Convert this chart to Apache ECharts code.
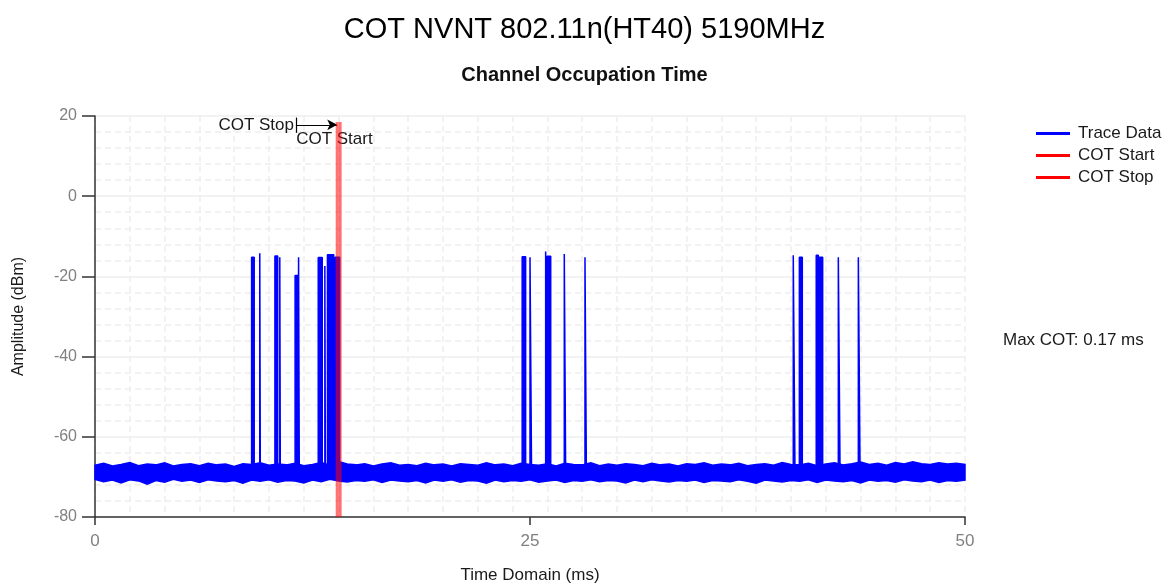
<!DOCTYPE html>
<html>
<head>
<meta charset="utf-8">
<script src="https://cdn.jsdelivr.net/npm/echarts@6/dist/echarts.min.js"></script>
<style>
  html, body { margin: 0; padding: 0; background: #fff; }
  #main { width: 1169px; height: 584px; }
</style>
</head>
<body>
<div id="main"></div>
<script type="text/javascript">
// noise floor envelope, one sample every 0.5 ms from 0 to 50 ms
var noiseStep = 0.5;
var noiseTop = [-67.1,-66.6,-67.3,-66.9,-66.4,-67.2,-66.8,-67.0,-66.5,-67.3,
  -66.9,-66.7,-67.2,-66.6,-67.0,-66.8,-67.4,-66.7,-66.9,-66.5,
  -67.1,-66.8,-67.0,-66.6,-67.2,-66.9,-66.4,-67.1,-66.2,-66.8,
  -67.0,-66.7,-67.3,-66.8,-66.5,-67.1,-66.9,-67.2,-66.6,-67.0,
  -66.8,-67.3,-66.7,-66.9,-67.1,-66.5,-67.0,-66.8,-67.2,-66.6,
  -66.9,-67.1,-66.7,-67.3,-66.6,-66.9,-67.0,-66.5,-67.2,-66.8,
  -67.1,-66.7,-66.9,-67.2,-66.6,-67.0,-66.8,-67.3,-66.7,-66.9,
  -66.5,-67.1,-66.8,-67.0,-66.6,-67.2,-66.9,-66.7,-67.1,-66.4,
  -66.9,-67.0,-66.6,-67.2,-66.8,-66.5,-67.0,-66.7,-66.3,-66.9,
  -66.6,-67.1,-66.4,-66.8,-66.2,-66.7,-66.9,-66.5,-66.8,-66.6,-66.9];
var noiseBottom = [-70.6,-71.2,-70.8,-71.5,-70.7,-71.0,-71.8,-70.9,-71.3,-70.6,
  -71.1,-70.8,-71.4,-70.7,-71.0,-71.2,-70.9,-71.6,-70.8,-71.1,
  -70.7,-71.3,-70.9,-71.0,-71.5,-70.8,-71.2,-70.6,-71.0,-71.3,
  -70.9,-71.1,-70.7,-71.4,-70.8,-71.0,-71.2,-70.9,-71.5,-70.8,
  -71.1,-70.7,-71.3,-70.9,-71.0,-71.6,-70.8,-71.2,-70.9,-71.1,
  -70.7,-71.3,-71.0,-70.8,-71.4,-70.9,-71.1,-70.7,-71.2,-70.9,
  -71.0,-71.5,-70.8,-71.2,-70.7,-71.0,-71.3,-70.9,-71.1,-70.8,
  -71.4,-70.9,-71.0,-71.2,-70.7,-71.1,-71.6,-70.8,-71.0,-71.3,
  -70.9,-71.1,-70.7,-71.4,-70.8,-71.0,-71.2,-70.9,-71.5,-70.8,
  -71.1,-70.9,-71.3,-70.7,-71.0,-71.2,-70.8,-71.4,-70.9,-71.1,-70.8];

// bursts in the trace: start (ms), end (ms), peak level (dBm)
var noiseLevel = -69;
var burstStart = [9.00, 9.47, 10.34, 10.62, 11.50, 11.70, 12.83, 13.21, 13.36, 13.80,
                  24.55, 25.00, 25.90, 25.98, 26.97, 28.16,
                  40.13, 40.48, 41.45, 41.63, 42.72, 43.87];
var burstEnd   = [9.15, 9.50, 10.50, 10.65, 11.66, 11.74, 13.06, 13.24, 13.72, 14.06,
                  24.75, 25.09, 25.98, 26.19, 27.05, 28.24,
                  40.23, 40.65, 41.57, 41.82, 42.82, 43.97];
var burstTop   = [-15.2, -14.2, -14.9, -15.2, -19.8, -15.2, -15.3, -17.4, -14.6, -15.2,
                  -15.1, -15.2, -13.8, -15.0, -14.4, -15.2,
                  -14.7, -15.2, -14.7, -15.2, -15.2, -15.2];

// COT markers
var cotStart = 13.92;
var cotStop = 14.09;
var cotTop = 18.5;
var maxCot = '0.17';

// axes
var xMin = 0, xMax = 50, xInterval = 25;
var yMin = -80, yMax = 20, yInterval = 20;

var traceData = [[xMin, noiseLevel]];
for (var i = 0; i < burstStart.length; i++) {
    traceData.push([burstStart[i], noiseLevel]);
    traceData.push([burstStart[i], burstTop[i]]);
    traceData.push([burstEnd[i], burstTop[i]]);
    traceData.push([burstEnd[i], noiseLevel]);
}
traceData.push([xMax, noiseLevel]);

var font = '"Liberation Sans", Arial, sans-serif';
var myChart = echarts.init(document.getElementById('main'));

var option = {
    animation: false,
    title: [
        {
            text: 'COT NVNT 802.11n(HT40) 5190MHz',
            left: 'center', top: 10,
            textStyle: { fontSize: 29, fontWeight: 'normal', color: '#000', fontFamily: font }
        },
        {
            text: 'Channel Occupation Time',
            left: 'center', top: 60,
            textStyle: { fontSize: 20, fontWeight: 'bold', color: '#111', fontFamily: font }
        }
    ],
    legend: {
        data: ['Trace Data', 'COT Start', 'COT Stop'],
        orient: 'vertical',
        left: 1031, top: 120,
        icon: 'rect',
        itemWidth: 34, itemHeight: 3, itemGap: 5,
        textStyle: { fontSize: 17, color: '#1a1a1a', fontFamily: font, padding: [0, 0, 0, 3] }
    },
    graphic: [
        {
            type: 'text', left: 1003, top: 332,
            style: { text: 'Max COT: ' + maxCot + ' ms', fill: '#1a1a1a', font: '17px ' + font }
        }
    ],
    grid: { left: 95, right: 204, top: 116, bottom: 67, outerBoundsMode: 'none', containLabel: false },
    xAxis: [
        {
            type: 'value', min: xMin, max: xMax, interval: xInterval,
            name: 'Time Domain (ms)', nameLocation: 'middle', nameGap: 50,
            nameTextStyle: { fontSize: 17, color: '#1a1a1a', fontFamily: font },
            axisLine: { onZero: false, lineStyle: { color: '#333', width: 1.5 } },
            axisTick: { length: 8, lineStyle: { color: '#333', width: 1.5 } },
            axisLabel: { fontSize: 17, color: '#808080', margin: 16, fontFamily: font },
            splitLine: { show: false }
        },
        {
            type: 'value', min: xMin, max: xMax, interval: 2,
            position: 'bottom', show: true,
            axisLine: { show: false, onZero: false }, axisTick: { show: false }, axisLabel: { show: false },
            splitLine: { show: true, lineStyle: { color: '#eeeeee', type: [6, 4], width: 1.5 } }
        }
    ],
    yAxis: {
        type: 'value', min: yMin, max: yMax, interval: yInterval,
        name: 'Amplitude (dBm)', nameLocation: 'middle', nameGap: 68,
        nameTextStyle: { fontSize: 16, color: '#1a1a1a', fontFamily: font },
        axisLine: { show: true, lineStyle: { color: '#333', width: 1.5 } },
        axisTick: { show: true, length: 13, lineStyle: { color: '#333', width: 1.5 } },
        axisLabel: { fontSize: 16, color: '#808080', margin: 18, fontFamily: font },
        splitLine: { show: true, lineStyle: { color: '#eeeeee', width: 1.5 } },
        minorTick: { show: false, splitNumber: 5 },
        minorSplitLine: { show: true, lineStyle: { color: '#eeeeee', type: [6, 4], width: 1.5 } }
    },
    series: [
        {
            name: 'noise',
            type: 'custom',
            silent: true,
            z: 2,
            data: [0],
            renderItem: function (params, api) {
                var pts = [];
                for (var k = 0; k < noiseTop.length; k++) {
                    pts.push(api.coord([k * noiseStep, noiseTop[k]]));
                }
                for (var k = noiseBottom.length - 1; k >= 0; k--) {
                    pts.push(api.coord([k * noiseStep, noiseBottom[k]]));
                }
                return {
                    type: 'polygon',
                    shape: { points: pts },
                    style: { fill: '#0000ff', stroke: '#0000ff', lineWidth: 1.5 }
                };
            }
        },
        {
            name: 'Trace Data',
            type: 'line',
            z: 3,
            showSymbol: false,
            symbol: 'none',
            lineStyle: { color: '#0000ff', width: 1.5 },
            itemStyle: { color: '#0000ff' },
            areaStyle: { color: '#0000ff', opacity: 1, origin: noiseLevel },
            data: traceData
        },
        {
            name: 'COT Start',
            type: 'line',
            z: 5,
            symbol: 'none',
            lineStyle: { color: 'rgba(255,0,0,0.55)', width: 3 },
            itemStyle: { color: '#ff0000' },
            data: [[cotStart, yMin], [cotStart, cotTop]]
        },
        {
            name: 'COT Stop',
            type: 'line',
            z: 5,
            symbol: 'none',
            lineStyle: { color: 'rgba(255,0,0,0.55)', width: 3 },
            itemStyle: { color: '#ff0000' },
            data: [[cotStop, yMin], [cotStop, cotTop]]
        },
        {
            name: 'annotation',
            type: 'line',
            z: 6,
            data: [],
            markLine: {
                silent: true,
                animation: false,
                lineStyle: { color: '#000', width: 1.2, type: 'solid' },
                data: [
                    [
                        { coord: [11.55, 17.8], symbol: 'none',
                          label: { show: true, position: 'start', formatter: 'COT Stop', distance: 2,
                                   fontSize: 17, color: '#1a1a1a', fontFamily: font } },
                        { coord: [cotStart, 17.8], symbol: 'arrow', symbolSize: [8, 10] }
                    ],
                    [
                        { coord: [11.55, 19.6], symbol: 'none', label: { show: false } },
                        { coord: [11.55, 15.8], symbol: 'none' }
                    ]
                ]
            },
            markPoint: {
                silent: true,
                symbol: 'circle', symbolSize: 0,
                data: [{
                    coord: [11.56, 14.2],
                    label: { show: true, position: 'right', distance: 0, formatter: 'COT Start',
                             fontSize: 17, color: '#1a1a1a', fontFamily: font }
                }]
            }
        }
    ]
};

myChart.setOption(option);
</script>
</body>
</html>
